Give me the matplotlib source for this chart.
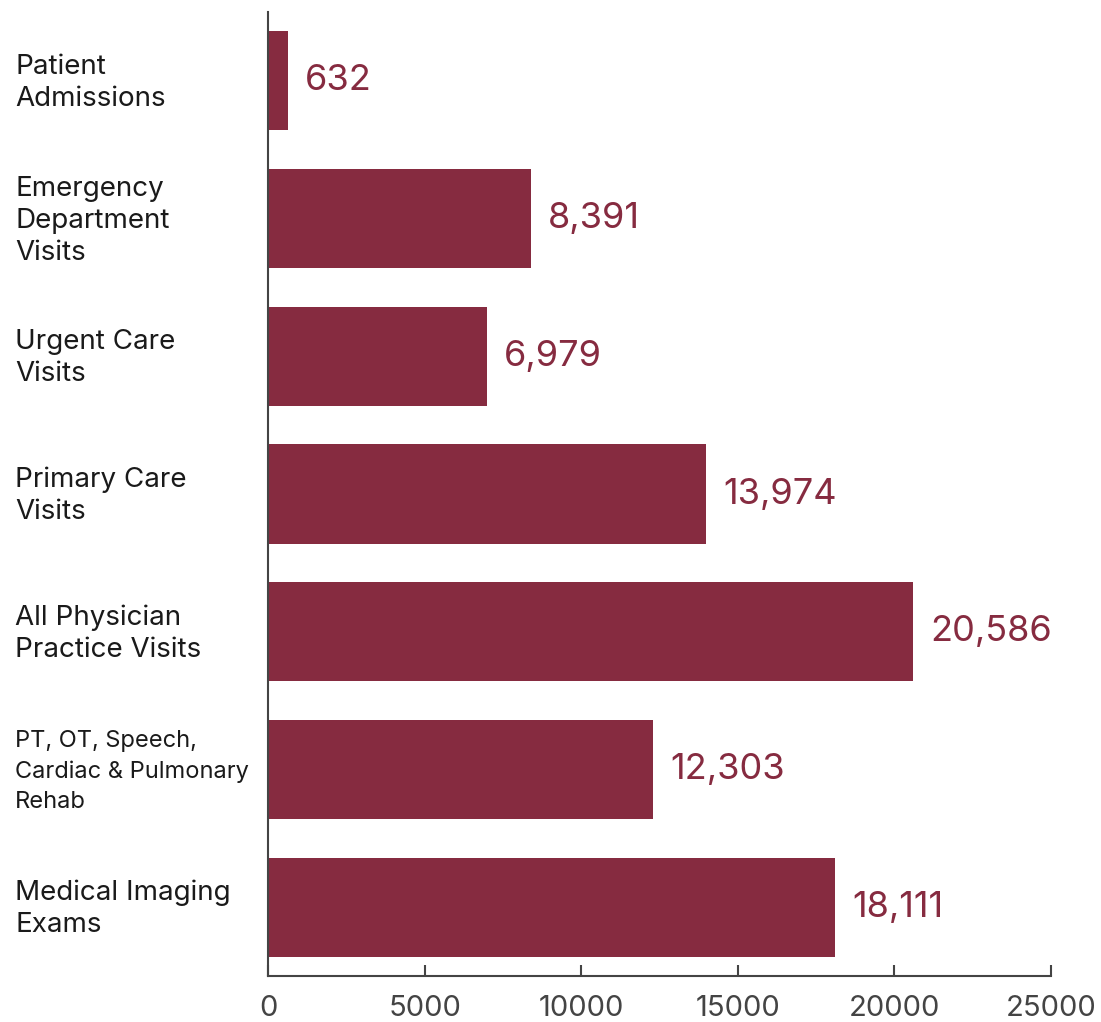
import matplotlib.pyplot as plt
from matplotlib.transforms import blended_transform_factory

categories = [
    "Patient\nAdmissions",
    "Emergency\nDepartment\nVisits",
    "Urgent Care\nVisits",
    "Primary Care\nVisits",
    "All Physician\nPractice Visits",
    "PT, OT, Speech,\nCardiac & Pulmonary\nRehab",
    "Medical Imaging\nExams",
]
values = [632, 8391, 6979, 13974, 20586, 12303, 18111]
xticks = [0, 5000, 10000, 15000, 20000, 25000]

bar_color = '#862B40'
axis_color = '#444444'

plt.rcParams['font.family'] = ['Inter', 'DejaVu Sans']

fig = plt.figure(figsize=(11.01, 10.22), dpi=100)
ax = fig.add_axes([268 / 1101, 1 - 976 / 1022, 783 / 1101, 964 / 1022])

pos = list(range(len(values)))
ax.barh(pos, values, height=0.72, color=bar_color)

for p, v in zip(pos, values):
    ax.text(v + 550, p, f"{v:,}", va='center', ha='left',
            fontsize=26, color=bar_color)

ax.set_xlim(0, 25000)
ax.set_ylim(6.5, -0.5)
ax.set_xticks(xticks)
ax.set_xticklabels([str(t) for t in xticks])
ax.tick_params(axis='x', direction='in', length=8, width=1.5, color=axis_color,
               labelsize=21, labelcolor='#444444', pad=14)

# category labels, left aligned at the figure edge
ax.set_yticks([])
trans = blended_transform_factory(fig.transFigure, ax.transData)
for i, (p, c) in enumerate(zip(pos, categories)):
    size, ls = (17, 1.45) if i == 5 else (20, 1.3)
    ax.text(15 / 1101, p + 0.015, c, transform=trans, ha='left', va='center',
            fontsize=size, linespacing=ls, color='#1a1a1a')

for side in ['top', 'right']:
    ax.spines[side].set_visible(False)
for side in ['left', 'bottom']:
    ax.spines[side].set_color(axis_color)
    ax.spines[side].set_linewidth(1.5)

plt.savefig('out.png', dpi=100)
